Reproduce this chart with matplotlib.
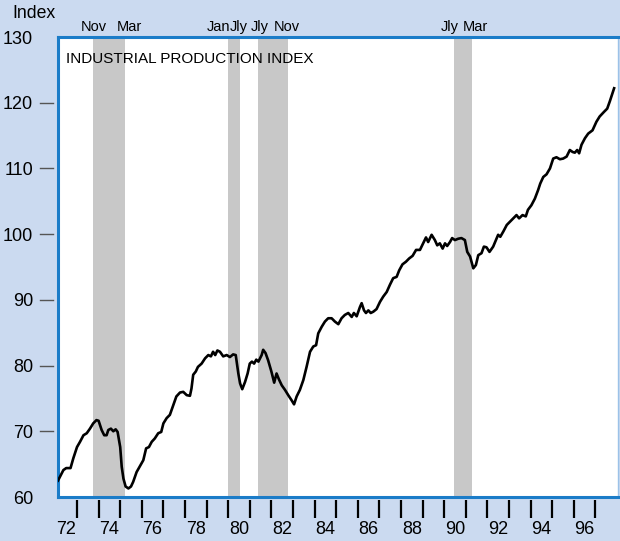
import matplotlib
matplotlib.use("Agg")
import matplotlib.pyplot as plt
import matplotlib.transforms as mtrans
from matplotlib import font_manager

# ---------------- data ----------------
years = [1972.12, 1972.37, 1972.5, 1972.7, 1972.83, 1973.0, 1973.14, 1973.3, 1973.45, 1973.6,
         1973.75, 1973.9, 1974.0, 1974.14, 1974.26, 1974.37, 1974.45, 1974.57, 1974.68, 1974.79,
         1974.88, 1975.0, 1975.07, 1975.15, 1975.25, 1975.38, 1975.5, 1975.6, 1975.76, 1975.9,
         1976.07, 1976.2, 1976.33, 1976.46, 1976.6, 1976.76, 1976.9, 1977.0, 1977.15, 1977.3,
         1977.46, 1977.6, 1977.77, 1977.92, 1978.08, 1978.23, 1978.3, 1978.38, 1978.5, 1978.6,
         1978.77, 1978.93, 1979.08, 1979.2, 1979.3, 1979.4, 1979.5, 1979.62, 1979.77, 1979.93,
         1980.08, 1980.23, 1980.35, 1980.47, 1980.55, 1980.65, 1980.78, 1980.9, 1981.0, 1981.1,
         1981.2, 1981.3, 1981.4, 1981.55, 1981.62, 1981.73, 1981.85, 1982.0, 1982.13, 1982.24,
         1982.35, 1982.48, 1982.63, 1982.78, 1982.94, 1983.05, 1983.17, 1983.32, 1983.48, 1983.63,
         1983.79, 1983.94, 1984.07, 1984.17, 1984.33, 1984.48, 1984.63, 1984.79, 1984.94, 1985.1,
         1985.25, 1985.4, 1985.56, 1985.72, 1985.82, 1985.95, 1986.1, 1986.18, 1986.29, 1986.38,
         1986.49, 1986.6, 1986.72, 1986.87, 1987.03, 1987.18, 1987.34, 1987.49, 1987.64, 1987.8,
         1987.92, 1988.07, 1988.23, 1988.38, 1988.54, 1988.7, 1988.88, 1989.03, 1989.16, 1989.26,
         1989.42, 1989.57, 1989.68, 1989.8, 1989.93, 1990.04, 1990.14, 1990.27, 1990.37, 1990.5,
         1990.65, 1990.8, 1990.96, 1991.07, 1991.2, 1991.35, 1991.47, 1991.58, 1991.73, 1991.84,
         1991.96, 1992.1, 1992.27, 1992.4, 1992.5, 1992.6, 1992.74, 1992.9, 1993.05, 1993.2,
         1993.35, 1993.47, 1993.63, 1993.78, 1993.88, 1994.04, 1994.2, 1994.35, 1994.45, 1994.59,
         1994.74, 1994.9, 1995.05, 1995.2, 1995.36, 1995.51, 1995.67, 1995.82, 1995.95, 1996.05,
         1996.16, 1996.25, 1996.36, 1996.52, 1996.67, 1996.87, 1997.05, 1997.2, 1997.4, 1997.55,
         1997.67, 1997.87]
index_values = [62.5, 64.1, 64.4, 64.4, 65.9, 67.6, 68.4, 69.4, 69.7, 70.4,
                71.2, 71.7, 71.6, 70.2, 69.4, 69.4, 70.2, 70.4, 70.0, 70.3,
                69.9, 67.6, 64.6, 62.8, 61.6, 61.3, 61.6, 62.3, 63.8, 64.6,
                65.6, 67.4, 67.6, 68.4, 68.9, 69.7, 69.9, 71.2, 72.0, 72.5,
                74.0, 75.3, 75.9, 76.0, 75.5, 75.4, 76.5, 78.6, 79.1, 79.8,
                80.3, 81.1, 81.6, 81.4, 82.1, 81.6, 82.3, 82.1, 81.4, 81.6,
                81.3, 81.7, 81.6, 78.8, 77.3, 76.4, 77.5, 78.8, 80.3, 80.6,
                80.3, 80.9, 80.6, 81.6, 82.4, 81.9, 80.8, 79.1, 77.4, 78.8,
                77.9, 77.0, 76.3, 75.5, 74.7, 74.1, 75.3, 76.3, 77.8, 79.8,
                82.1, 82.9, 83.1, 84.9, 85.9, 86.7, 87.2, 87.2, 86.7, 86.3,
                87.2, 87.7, 88.0, 87.4, 88.0, 87.5, 88.9, 89.5, 88.4, 88.0,
                88.4, 88.0, 88.2, 88.6, 89.7, 90.5, 91.2, 92.3, 93.3, 93.5,
                94.5, 95.4, 95.8, 96.3, 96.7, 97.6, 97.6, 98.6, 99.5, 98.8,
                99.9, 99.1, 98.3, 98.6, 97.8, 98.6, 98.2, 98.8, 99.4, 99.1,
                99.3, 99.4, 99.1, 97.3, 96.6, 94.8, 95.3, 96.8, 97.1, 98.1,
                98.0, 97.3, 98.1, 99.1, 99.9, 99.6, 100.4, 101.4, 101.9, 102.4,
                102.9, 102.4, 102.9, 102.7, 103.7, 104.4, 105.4, 106.7, 107.7, 108.7,
                109.1, 110.0, 111.5, 111.7, 111.4, 111.5, 111.8, 112.8, 112.5, 112.4,
                112.8, 112.3, 113.6, 114.6, 115.3, 115.8, 117.1, 117.9, 118.6, 119.1,
                120.2, 122.2]

recession_starts = [1973.72, 1980.0, 1981.4, 1990.47]
recession_ends = [1975.2, 1980.54, 1982.75, 1991.3]
recession_labels = ["Nov", "Mar", "Jan", "Jly", "Jly", "Nov", "Jly", "Mar"]
recession_label_x = [1973.79, 1975.41, 1979.53, 1980.5, 1981.47, 1982.72, 1990.27, 1991.45]

ytick_values = [60, 70, 80, 90, 100, 110, 120, 130]
ytick_marks = [70, 80, 90, 100, 110, 120]
xtick_years = list(range(1973, 1998))
xlabel_years = list(range(1972, 1997, 2))
xlabel_text = [f"{y % 100:02d}" for y in xlabel_years]

title_text = "INDUSTRIAL PRODUCTION INDEX"
ylabel_text = "Index"

# ---------------- style ----------------
BG = "#cbdaf0"
AXBLUE = "#1b7cc8"
FONT = "Liberation Sans"
available = {f.name for f in font_manager.fontManager.ttflist}
NARROW = "Liberation Sans Narrow" if "Liberation Sans Narrow" in available else None
plt.rcParams["font.family"] = [FONT, "DejaVu Sans"]

W, H = 620, 541
fig = plt.figure(figsize=(W / 100, H / 100), dpi=100, facecolor=BG)
ax_l, ax_r, ax_t, ax_b = 58, 618, 37, 497
ax = fig.add_axes([ax_l / W, 1 - ax_b / H, (ax_r - ax_l) / W, (ax_b - ax_t) / H])
ax.set_facecolor("white")

ax.set_xlim(1972.12, 1998.05)
ax.set_ylim(60, 130)

for s, e in zip(recession_starts, recession_ends):
    ax.axvspan(s, e, color="#c8c8c8", lw=0, zorder=1)

ax.plot(years, index_values, color="black", lw=1.9, zorder=3, solid_joinstyle="round")

# spines
for side in ["left", "top", "bottom"]:
    ax.spines[side].set_color(AXBLUE)
    ax.spines[side].set_linewidth(2.2)
ax.spines["right"].set_color("#9cc2e8")
ax.spines["right"].set_linewidth(1.0)

# y ticks: labels from axis, dashes drawn separately with a gap
ax.set_yticks(ytick_values)
ax.set_yticklabels([str(v) for v in ytick_values])
ax.tick_params(axis="y", length=0, pad=25 * 0.72, labelsize=13, colors="black")
axw_px = ax_r - ax_l
axh_px = ax_b - ax_t
ty = mtrans.blended_transform_factory(ax.transAxes, ax.transData)
for v in ytick_marks:
    ax.plot([-18 / axw_px, -5 / axw_px], [v, v], transform=ty, color="#555555",
            lw=1.0, clip_on=False, zorder=5)

# x ticks: year marks below the axis, labels centred in the year
ax.set_xticks([y + 0.5 for y in xlabel_years])
ax.set_xticklabels(xlabel_text)
ax.tick_params(axis="x", length=0, pad=24 * 0.72, labelsize=13, colors="black")
tx = mtrans.blended_transform_factory(ax.transData, ax.transAxes)
for yr in xtick_years:
    ax.plot([yr, yr], [-3 / axh_px, -21 / axh_px], transform=tx, color="black",
            lw=1.6, clip_on=False, zorder=5, solid_capstyle="butt")

# recession labels above the plot
for lab, xp in zip(recession_labels, recession_label_x):
    ax.text(xp, (ax_b - 31) / axh_px, lab, transform=tx, ha="center", va="baseline",
            fontsize=10.5, color="black")

# title inside plot
if NARROW:
    ax.text((66 - ax_l) / axw_px, (ax_b - 63) / axh_px, title_text, transform=ax.transAxes,
            ha="left", va="baseline", fontsize=13.3, family=[NARROW, "DejaVu Sans"], zorder=6)
else:
    ax.text((66 - ax_l) / axw_px, (ax_b - 63) / axh_px, title_text, transform=ax.transAxes,
            ha="left", va="baseline", fontsize=11, zorder=6)

# "Index" axis label
fig.text(12 / W, 1 - 17.5 / H, ylabel_text, ha="left", va="baseline", fontsize=12.7)

fig.savefig("out.png", dpi=100, facecolor=BG)
